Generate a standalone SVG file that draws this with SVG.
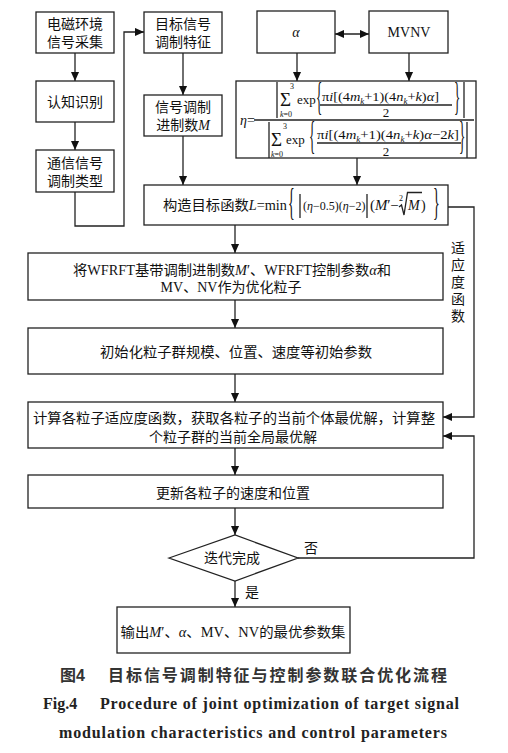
<svg xmlns="http://www.w3.org/2000/svg" width="508" height="753" viewBox="0 0 508 753">
<defs>
<marker id="ah" viewBox="0 0 10 10" refX="10" refY="5" markerWidth="9" markerHeight="9" markerUnits="userSpaceOnUse" orient="auto-start-reverse">
<path d="M0,0.5 L10,5 L0,9.5 z" fill="#111"/>
</marker>
</defs>
<style>
.box{fill:#fff;stroke:#222;stroke-width:1.3}
.t{font-family:"Liberation Serif","Noto Sans CJK SC",serif;font-size:14px;fill:#111;text-anchor:middle;dominant-baseline:central}
.c{stroke:#222;stroke-width:1.3;fill:none}
.ca{stroke:#222;stroke-width:1.3;fill:none;marker-end:url(#ah)}
.m{font-family:"Liberation Serif","DejaVu Serif",serif;fill:#111}
.i{font-style:italic}
.cap{font-family:"Noto Sans CJK SC",sans-serif;font-weight:bold;font-size:16px;fill:#333}
.en{font-family:"Liberation Serif",serif;font-weight:bold;font-size:16px;fill:#222}
</style>
<rect width="508" height="753" fill="#fff"/>

<g id="connectors">
<line class="ca" x1="75" y1="53" x2="75" y2="81"/>
<line class="ca" x1="75" y1="122" x2="75" y2="150"/>
<polyline class="ca" points="75,192 75,226 124,226 124,32 144,32"/>
<line class="ca" x1="183" y1="53" x2="183" y2="95"/>
<line class="ca" x1="183" y1="136" x2="183" y2="185"/>
<line class="ca" x1="297" y1="53" x2="297" y2="81"/>
<line class="ca" x1="409" y1="53" x2="409" y2="81"/>
<line class="ca" x1="335" y1="34" x2="369" y2="34" marker-start="url(#ah)"/>
<line class="ca" x1="357" y1="158" x2="357" y2="185"/>
<line class="ca" x1="235" y1="225" x2="235" y2="253"/>
<line class="ca" x1="235" y1="300" x2="235" y2="328"/>
<line class="ca" x1="235" y1="374" x2="235" y2="402"/>
<line class="ca" x1="235" y1="448" x2="235" y2="475"/>
<line class="ca" x1="235" y1="508" x2="235" y2="535"/>
<line class="ca" x1="235" y1="581" x2="235" y2="607"/>
<polyline class="ca" points="448,207 474,207 474,417 443,417"/>
<polyline class="ca" points="298,558 474,558 474,436 443,436"/>
<g class="t">
<text x="458" y="248">适</text>
<text x="458" y="265">应</text>
<text x="458" y="282">度</text>
<text x="458" y="299">函</text>
<text x="458" y="316">数</text>
<text x="311" y="548">否</text>
<text x="252" y="592">是</text>
</g>
</g>

<g id="n1"><rect class="box" x="36" y="12" width="78" height="41"/>
<text class="t" x="75" y="24">电磁环境</text><text class="t" x="75" y="42">信号采集</text></g>
<g id="n2"><rect class="box" x="36" y="81" width="78" height="41"/>
<text class="t" x="75" y="102">认知识别</text></g>
<g id="n3"><rect class="box" x="36" y="150" width="78" height="42"/>
<text class="t" x="75" y="163">通信信号</text><text class="t" x="75" y="181">调制类型</text></g>
<g id="n4"><rect class="box" x="144" y="12" width="78" height="41"/>
<text class="t" x="183" y="24">目标信号</text><text class="t" x="183" y="42">调制特征</text></g>
<g id="n5"><rect class="box" x="144" y="95" width="78" height="41"/>
<text class="t" x="183" y="107">信号调制</text><text class="t" x="183" y="125">进制数<tspan class="i">M</tspan></text></g>
<g id="n6"><rect class="box" x="257" y="11" width="78" height="42"/>
<text class="t i" x="296" y="32">α</text></g>
<g id="n7"><rect class="box" x="369" y="11" width="79" height="42"/>
<text class="t" x="409" y="32">MVNV</text></g>

<g id="n8"><rect class="box" x="236" y="81" width="240" height="77"/>
<g class="m">
<text x="240" y="125" font-size="14"><tspan class="i">η</tspan>=</text>
<line class="c" x1="254" y1="120" x2="474" y2="120" stroke-width="1"/>
<line class="c" x1="277" y1="82" x2="277" y2="118" stroke-width="1.2"/>
<line class="c" x1="464" y1="82" x2="464" y2="118" stroke-width="1.2"/>
<text x="280" y="106" font-size="19">Σ</text>
<text x="290" y="89" font-size="8">3</text>
<text x="280" y="117" font-size="8"><tspan class="i">k</tspan>=0</text>
<text x="297" y="104" font-size="13">exp</text>
<text transform="translate(316,109.5) scale(1,3)" font-size="13">{</text>
<text x="322" y="101" font-size="13" textLength="117" lengthAdjust="spacingAndGlyphs">π<tspan class="i">i</tspan>[(4<tspan class="i">m</tspan><tspan class="i" font-size="8" dy="3">k</tspan><tspan dy="-3">+1)(4</tspan><tspan class="i">n</tspan><tspan class="i" font-size="8" dy="3">k</tspan><tspan dy="-3">+</tspan><tspan class="i">k</tspan>)<tspan class="i">α</tspan>]</text>
<line class="c" x1="320" y1="105" x2="452" y2="105" stroke-width="1"/>
<text x="386" y="117" font-size="13" text-anchor="middle">2</text>
<text transform="translate(454,109.5) scale(1,3)" font-size="13">}</text>
<line class="c" x1="269" y1="122" x2="269" y2="158" stroke-width="1.2"/>
<line class="c" x1="467" y1="122" x2="467" y2="158" stroke-width="1.2"/>
<text x="271" y="146" font-size="19">Σ</text>
<text x="283" y="129" font-size="8">3</text>
<text x="271" y="157" font-size="8"><tspan class="i">k</tspan>=0</text>
<text x="286" y="144" font-size="13">exp</text>
<text transform="translate(309,148.5) scale(1,3)" font-size="13">{</text>
<text x="317" y="139" font-size="13" textLength="142" lengthAdjust="spacingAndGlyphs">π<tspan class="i">i</tspan>[(4<tspan class="i">m</tspan><tspan class="i" font-size="8" dy="3">k</tspan><tspan dy="-3">+1)(4</tspan><tspan class="i">n</tspan><tspan class="i" font-size="8" dy="3">k</tspan><tspan dy="-3">+</tspan><tspan class="i">k</tspan>)<tspan class="i">α</tspan>−2<tspan class="i">k</tspan>]</text>
<line class="c" x1="317" y1="143" x2="461" y2="143" stroke-width="1"/>
<text x="386" y="156" font-size="13" text-anchor="middle">2</text>
<text transform="translate(459,148.5) scale(1,3)" font-size="13">}</text>
</g>
</g>

<g id="n9"><rect class="box" x="144" y="185" width="304" height="40"/>
<g class="m">
<text x="163" y="210" font-size="14" font-family="Liberation Serif, Noto Sans CJK SC, serif" textLength="124" lengthAdjust="spacingAndGlyphs">构造目标函数<tspan class="i">L</tspan>=min</text>
<text transform="translate(288,215.3) scale(1,2.66)" font-size="14">{</text>
<line class="c" x1="300" y1="194" x2="300" y2="218" stroke-width="1.1"/>
<text x="303" y="210" font-size="12">(<tspan class="i">η</tspan>−0.5)(<tspan class="i">η</tspan>−2)</text>
<line class="c" x1="367" y1="194" x2="367" y2="218" stroke-width="1.1"/>
<text x="370" y="210" font-size="14" textLength="29" lengthAdjust="spacingAndGlyphs">(<tspan class="i">M</tspan>′−</text>
<text x="399" y="201" font-size="8">2</text>
<path class="c" d="M399,207 L401.5,205 L404,215 L407.5,192.5 L422,192.5" stroke-width="1"/>
<text x="408" y="210" font-size="14" class="i">M</text>
<text x="421" y="210" font-size="14">)</text>
<text transform="translate(433,215.3) scale(1,2.66)" font-size="14">}</text>
</g>
</g>

<g id="n10"><rect class="box" x="28" y="253" width="415" height="47"/>
<text class="t" x="232" y="270" textLength="318" lengthAdjust="spacingAndGlyphs">将WFRFT基带调制进制数<tspan class="i">M</tspan>′、WFRFT控制参数<tspan class="i">α</tspan>和</text>
<text class="t" x="231" y="287">MV、NV作为优化粒子</text></g>
<g id="n11"><rect class="box" x="28" y="328" width="415" height="46"/>
<text class="t" x="236" y="352" textLength="272" lengthAdjust="spacingAndGlyphs">初始化粒子群规模、位置、速度等初始参数</text></g>
<g id="n12"><rect class="box" x="28" y="402" width="415" height="46"/>
<text class="t" x="234" y="418" textLength="402" lengthAdjust="spacingAndGlyphs">计算各粒子适应度函数，获取各粒子的当前个体最优解，计算整</text>
<text class="t" x="233" y="437">个粒子群的当前全局最优解</text></g>
<g id="n13"><rect class="box" x="28" y="475" width="415" height="33"/>
<text class="t" x="233" y="493">更新各粒子的速度和位置</text></g>
<g id="n14"><polygon class="box" points="169,558 235,535 298,558 235,581"/>
<text class="t" x="232" y="558">迭代完成</text></g>
<g id="n15"><rect class="box" x="117" y="607" width="233" height="46"/>
<text class="t" x="233" y="632" textLength="225" lengthAdjust="spacingAndGlyphs">输出<tspan class="i">M</tspan>′、<tspan class="i">α</tspan>、MV、NV的最优参数集</text></g>

<g id="caption">
<text class="cap" x="60" y="681">图<tspan font-family="Liberation Sans, sans-serif">4</tspan></text>
<text class="cap" x="108" y="681" textLength="339" lengthAdjust="spacing">目标信号调制特征与控制参数联合优化流程</text>
<text class="en" x="43" y="709">Fig.4</text>
<text class="en" x="100" y="709" textLength="359" lengthAdjust="spacing">Procedure of joint optimization of target signal</text>
<text class="en" x="59" y="738" textLength="388" lengthAdjust="spacing">modulation characteristics and control parameters</text>
</g>
</svg>
